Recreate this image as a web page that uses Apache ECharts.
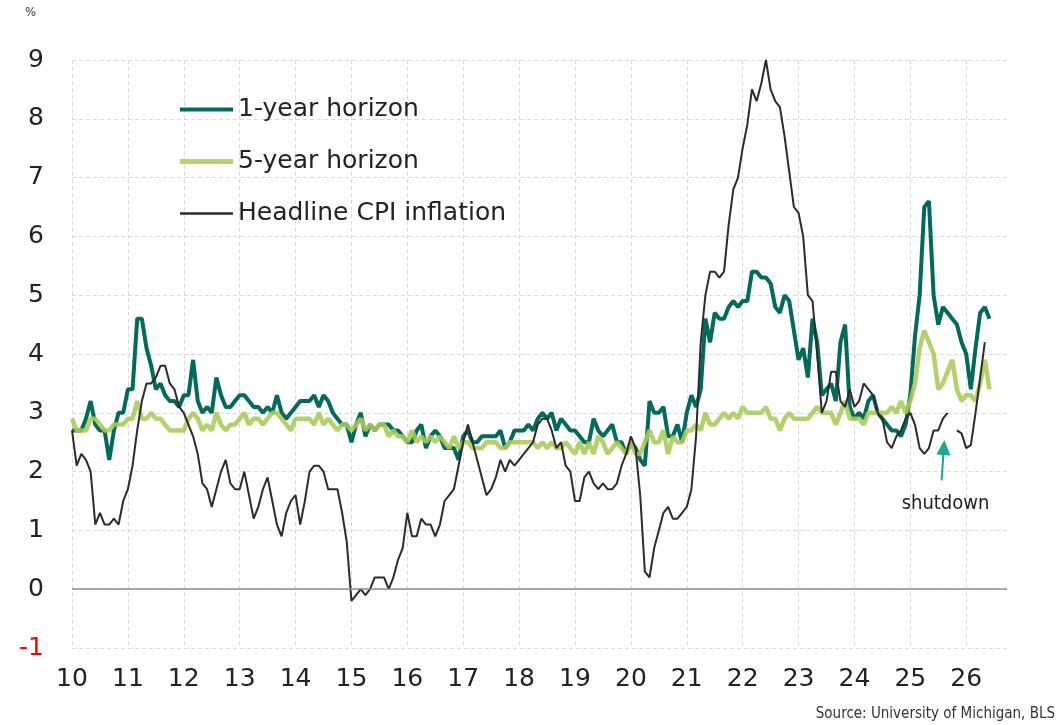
<!DOCTYPE html>
<html>
<head>
<meta charset="utf-8">
<script src="https://cdn.jsdelivr.net/npm/echarts@6/dist/echarts.min.js"></script>
<style>
  html, body { margin: 0; padding: 0; background: #fff; }
  #chart { width: 1057px; height: 725px; }
</style>
</head>
<body>
<div id="chart"></div>
<script>
// monthly data, first point = Jan 2010
const START_YEAR = 2010

// University of Michigan, expected inflation 1 year ahead (%)
const oneYear = [
  2.7, 2.7, 2.7, 2.9, 3.2, 2.8, 2.7, 2.7, 2.2, 2.7, 3.0, 3.0, // 2010
  3.4, 3.4, 4.6, 4.6, 4.1, 3.8, 3.4, 3.5, 3.3, 3.2, 3.2, 3.1, // 2011
  3.3, 3.3, 3.9, 3.2, 3.0, 3.1, 3.0, 3.6, 3.3, 3.1, 3.1, 3.2, // 2012
  3.3, 3.3, 3.2, 3.1, 3.1, 3.0, 3.1, 3.0, 3.3, 3.0, 2.9, 3.0, // 2013
  3.1, 3.2, 3.2, 3.2, 3.3, 3.1, 3.3, 3.2, 3.0, 2.9, 2.8, 2.8, // 2014
  2.5, 2.8, 3.0, 2.6, 2.8, 2.7, 2.8, 2.8, 2.8, 2.7, 2.7, 2.6, // 2015
  2.5, 2.5, 2.7, 2.8, 2.4, 2.6, 2.7, 2.6, 2.4, 2.4, 2.4, 2.2, // 2016
  2.6, 2.7, 2.5, 2.5, 2.6, 2.6, 2.6, 2.6, 2.7, 2.4, 2.5, 2.7, // 2017
  2.7, 2.7, 2.8, 2.7, 2.9, 3.0, 2.9, 3.0, 2.7, 2.9, 2.8, 2.7, // 2018
  2.7, 2.6, 2.5, 2.5, 2.9, 2.7, 2.6, 2.7, 2.8, 2.5, 2.5, 2.3, // 2019
  2.5, 2.4, 2.2, 2.1, 3.2, 3.0, 3.0, 3.1, 2.6, 2.6, 2.8, 2.5, // 2020
  3.0, 3.3, 3.1, 3.4, 4.6, 4.2, 4.7, 4.6, 4.6, 4.8, 4.9, 4.8, // 2021
  4.9, 4.9, 5.4, 5.4, 5.3, 5.3, 5.2, 4.8, 4.7, 5.0, 4.9, 4.4, // 2022
  3.9, 4.1, 3.6, 4.6, 4.2, 3.3, 3.4, 3.5, 3.2, 4.2, 4.5, 3.1, // 2023
  2.9, 3.0, 2.9, 3.2, 3.3, 3.0, 2.9, 2.8, 2.7, 2.7, 2.6, 2.8, // 2024
  3.3, 4.3, 5.0, 6.5, 6.6, 5.0, 4.5, 4.8, 4.7, 4.6, 4.5, 4.2, // 2025
  4.0, 3.4, 4.1, 4.7, 4.8, 4.6                                // 2026
]

// expected inflation 5 years ahead (%)
const fiveYear = [
  2.9, 2.7, 2.7, 2.7, 2.9, 2.9, 2.8, 2.7, 2.7, 2.8, 2.8, 2.8, // 2010
  2.9, 2.9, 3.2, 2.9, 2.9, 3.0, 2.9, 2.9, 2.8, 2.7, 2.7, 2.7, // 2011
  2.7, 2.9, 3.0, 2.9, 2.7, 2.8, 2.7, 3.0, 2.8, 2.7, 2.8, 2.8, // 2012
  2.9, 3.0, 2.8, 2.9, 2.9, 2.8, 2.9, 3.0, 3.0, 2.9, 2.8, 2.7, // 2013
  2.9, 2.9, 2.9, 2.9, 2.8, 3.0, 2.8, 2.9, 2.8, 2.7, 2.8, 2.8, // 2014
  2.7, 2.8, 2.9, 2.7, 2.8, 2.7, 2.8, 2.8, 2.6, 2.7, 2.6, 2.6, // 2015
  2.5, 2.7, 2.5, 2.6, 2.5, 2.6, 2.5, 2.6, 2.5, 2.4, 2.6, 2.4, // 2016
  2.5, 2.5, 2.4, 2.4, 2.4, 2.5, 2.5, 2.5, 2.4, 2.4, 2.5, 2.5, // 2017
  2.5, 2.5, 2.5, 2.5, 2.4, 2.5, 2.4, 2.5, 2.4, 2.4, 2.5, 2.4, // 2018
  2.3, 2.5, 2.3, 2.5, 2.3, 2.6, 2.5, 2.3, 2.4, 2.5, 2.4, 2.3, // 2019
  2.5, 2.3, 2.3, 2.5, 2.7, 2.5, 2.5, 2.7, 2.3, 2.6, 2.5, 2.5, // 2020
  2.7, 2.7, 2.8, 2.7, 3.0, 2.8, 2.8, 2.9, 3.0, 2.9, 3.0, 2.9, // 2021
  3.1, 3.0, 3.0, 3.0, 3.0, 3.1, 2.9, 2.9, 2.7, 2.9, 3.0, 2.9, // 2022
  2.9, 2.9, 2.9, 3.0, 3.1, 3.0, 3.0, 3.0, 2.8, 3.0, 3.2, 2.9, // 2023
  2.9, 2.9, 2.8, 3.0, 3.0, 3.0, 3.0, 3.0, 3.1, 3.0, 3.2, 3.0, // 2024
  3.2, 3.5, 4.1, 4.4, 4.2, 4.0, 3.4, 3.5, 3.7, 3.9, 3.4, 3.2, // 2025
  3.3, 3.3, 3.2, 3.5, 3.9, 3.4                                // 2026
]

// headline CPI, % y/y (Oct 2025 missing: shutdown)
const cpi = [
  2.7, 2.1, 2.3, 2.2, 2.0, 1.1, 1.3, 1.1, 1.1, 1.2, 1.1, 1.5, // 2010
  1.7, 2.1, 2.7, 3.2, 3.5, 3.5, 3.6, 3.8, 3.8, 3.5, 3.4, 3.1, // 2011
  3.0, 2.8, 2.6, 2.3, 1.8, 1.7, 1.4, 1.7, 2.0, 2.2, 1.8, 1.7, // 2012
  1.7, 2.0, 1.6, 1.2, 1.4, 1.7, 1.9, 1.5, 1.1, 0.9, 1.3, 1.5, // 2013
  1.6, 1.1, 1.5, 2.0, 2.1, 2.1, 2.0, 1.7, 1.7, 1.7, 1.3, 0.8, // 2014
  -0.2, -0.1, 0.0, -0.1, 0.0, 0.2, 0.2, 0.2, 0.0, 0.2, 0.5, 0.7, // 2015
  1.3, 0.9, 0.9, 1.2, 1.1, 1.1, 0.9, 1.1, 1.5, 1.6, 1.7, 2.1, // 2016
  2.5, 2.8, 2.5, 2.2, 1.9, 1.6, 1.7, 1.9, 2.2, 2.0, 2.2, 2.1, // 2017
  2.2, 2.3, 2.4, 2.5, 2.8, 2.9, 2.9, 2.7, 2.4, 2.5, 2.1, 2.0, // 2018
  1.5, 1.5, 1.9, 2.0, 1.8, 1.7, 1.8, 1.7, 1.7, 1.8, 2.1, 2.3, // 2019
  2.6, 2.4, 1.6, 0.3, 0.2, 0.7, 1.0, 1.3, 1.4, 1.2, 1.2, 1.3, // 2020
  1.4, 1.7, 2.6, 4.2, 5.0, 5.4, 5.4, 5.3, 5.4, 6.2, 6.8, 7.0, // 2021
  7.5, 7.9, 8.5, 8.3, 8.6, 9.0, 8.5, 8.3, 8.2, 7.7, 7.1, 6.5, // 2022
  6.4, 6.0, 5.0, 4.9, 4.0, 3.0, 3.2, 3.7, 3.7, 3.2, 3.1, 3.4, // 2023
  3.1, 3.2, 3.5, 3.4, 3.3, 3.0, 2.9, 2.5, 2.4, 2.6, 2.7, 2.9, // 2024
  3.0, 2.8, 2.4, 2.3, 2.4, 2.7, 2.7, 2.9, 3.0, null, 2.7, 2.65, // 2025
  2.4, 2.45, 3.0, 3.6, 4.2                                    // 2026
]

const yTicks = { min: -1, max: 9, step: 1 }
const xRange = { min: 2010, max: 2026.73 }

const FONT = "'DejaVu Sans', sans-serif"
const FONT_NARROW = "'DejaVu Sans Condensed', 'Liberation Sans Narrow', sans-serif"
const TEAL = '#006b5b'
const LIME = '#a9cb55'
const INK = '#2b2b2b'

const toPairs = (arr) => arr.map((v, i) => [START_YEAR + i / 12, v == null ? '-' : v])

const chart = echarts.init(document.getElementById('chart'), null, { renderer: 'canvas' })

const legendItem = (name, top, h) => ({
  data: [name],
  left: 180,
  top,
  padding: 0,
  icon: 'rect',
  itemWidth: 53,
  itemHeight: h,
  selectedMode: false,
  textStyle: { fontSize: 25, color: '#222', fontFamily: FONT }
})

chart.setOption({
  animation: false,
  textStyle: { fontFamily: FONT },
  grid: { left: 72, right: 50, top: 60, bottom: 77, containLabel: false },
  legend: [
    legendItem('1-year horizon', 97, 4),
    legendItem('5-year horizon', 149, 5),
    legendItem('Headline CPI inflation', 201, 2.5)
  ],
  graphic: [
    { type: 'text', left: 25, top: 6, style: { text: '%', fill: '#333', font: '13px ' + FONT_NARROW } },
    { type: 'text', right: 2, bottom: 3, style: { text: 'Source: University of Michigan, BLS', fill: '#333', font: '15px ' + FONT_NARROW } }
  ],
  xAxis: {
    type: 'value',
    min: xRange.min,
    max: xRange.max,
    interval: 1,
    axisLine: { show: false },
    axisTick: { show: false },
    axisLabel: {
      fontSize: 25,
      color: '#222',
      margin: 19,
      showMaxLabel: false,
      formatter: (v) => Number.isInteger(v) ? String(v).slice(2) : ''
    },
    splitLine: { show: true, showMaxLine: false, lineStyle: { color: '#d9d9d9', type: [4, 3], width: 1 } }
  },
  yAxis: {
    type: 'value',
    min: yTicks.min,
    max: yTicks.max,
    interval: yTicks.step,
    axisLine: { show: false },
    axisTick: { show: false },
    axisLabel: {
      fontSize: 25,
      margin: 28,
      color: (v) => Number(v) < 0 ? '#ff0000' : '#222'
    },
    splitLine: { show: true, lineStyle: { color: '#d9d9d9', type: [4, 3], width: 1 } }
  },
  series: [
    {
      name: '1-year horizon',
      type: 'line',
      data: toPairs(oneYear),
      showSymbol: false,
      lineStyle: { width: 4, color: TEAL },
      itemStyle: { color: TEAL },
      markLine: {
        silent: true,
        symbol: 'none',
        label: { show: false },
        lineStyle: { color: '#8c8c8c', width: 1.5, type: 'solid' },
        data: [{ yAxis: 0 }]
      }
    },
    {
      name: '5-year horizon',
      type: 'line',
      data: toPairs(fiveYear),
      showSymbol: false,
      lineStyle: { width: 4.5, color: LIME, opacity: 0.88 },
      itemStyle: { color: '#b5d36a' }
    },
    {
      name: 'Headline CPI inflation',
      type: 'line',
      data: toPairs(cpi),
      showSymbol: false,
      connectNulls: false,
      lineStyle: { width: 2, color: INK },
      itemStyle: { color: INK },
      markLine: {
        silent: true,
        symbol: ['none', 'triangle'],
        symbolSize: [14, 15],
        label: { show: false },
        lineStyle: { color: '#1aa98a', width: 2, type: 'solid' },
        data: [[{ coord: [2025.56, 1.85] }, { coord: [2025.6, 2.41] }]]
      },
      markPoint: {
        silent: true,
        symbol: 'circle',
        symbolSize: 0,
        data: [{
          coord: [2025.63, 1.46],
          label: { show: true, position: 'inside', formatter: 'shutdown', fontSize: 20, color: '#222', fontFamily: FONT_NARROW }
        }]
      }
    }
  ]
})
</script>
</body>
</html>
